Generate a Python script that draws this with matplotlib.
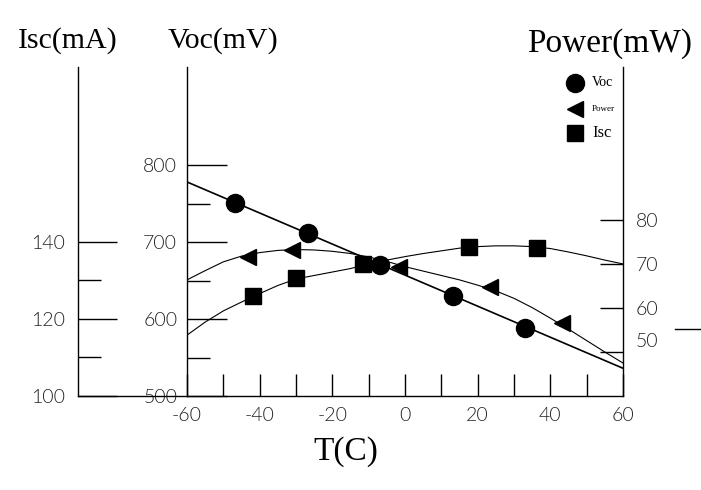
import matplotlib
matplotlib.use("Agg")
import matplotlib.pyplot as plt
from matplotlib.lines import Line2D

# ---------------- data ----------------
# temperature grid on which the fitted curves were read
curve_T = [-60, -55, -50, -45, -40, -35, -30, -25, -20, -15, -10, -5, 0,
           5, 10, 15, 20, 25, 30, 35, 40, 45, 50, 55, 60]
power_curve = [66.4, 68.5, 70.5, 71.8, 72.6, 73.1, 73.3, 73.2, 72.9, 72.4, 71.6, 70.6, 69.4,
               68.4, 67.4, 66.4, 65.2, 63.9, 62.2, 60.1, 57.7, 55.2, 52.6, 50.0, 47.5]
isc_curve = [115.8, 119.2, 122.1, 124.4, 126.6, 128.7, 130.4, 131.3, 132.2, 133.1, 134.3, 135.3, 136.2,
             137.0, 137.7, 138.4, 138.8, 139.0, 139.0, 138.8, 138.3, 137.4, 136.4, 135.3, 134.3]
# Voc fit is a straight line
voc_line_T = [-60, 60]
voc_line_V = [778, 536]

# measured points
voc_T = [-46.9, -26.7, -6.9, 13.2, 33.0]
voc_V = [751, 712, 670, 630, 588]
power_T = [-43.1, -31.1, -1.7, 23.4, 43.2]
power_P = [71.6, 73.2, 69.3, 64.8, 56.7]
isc_T = [-41.8, -30.0, -11.6, 17.6, 36.3]
isc_I = [126.0, 130.6, 134.3, 138.7, 138.4]

# ticks
x_major = [-60, -40, -20, 0, 20, 40, 60]
x_labels = ["-60", "-40", "-20", "0", "20", "40", "60"]
x_minor = [-50, -30, -10, 10, 30, 50]
voc_ticks = [500, 600, 700, 800]
voc_labels = ["500", "600", "700", "800"]
voc_minor = [550, 650, 750]
isc_ticks = [100, 120, 140]
isc_labels = ["100", "120", "140"]
isc_minor = [110, 130]
power_ticks = [50, 60, 70, 80]
power_labels = ["", "60", "70", "80"]

# ---------------- figure ----------------
W, H = 701, 490
fig = plt.figure(figsize=(W / 100, H / 100), dpi=100)
ax = fig.add_axes([187 / W, (H - 396) / H, 436 / W, 329 / H])

serif = ["Liberation Serif", "DejaVu Serif"]
tf = dict(family=["Lato", "DejaVu Sans"], fontweight=300, fontsize=14, color="#222222")
LW = 1.0

# Voc axis (main)
ax.set_xlim(-60, 60)
ax.set_ylim(500, 927.3)
ax.plot(voc_line_T, voc_line_V, color="k", lw=1.2)
ax.plot(voc_T, voc_V, "o", color="k", ms=13, ls="none")
ax.spines[["top", "right"]].set_visible(False)
for s in ["left", "bottom"]:
    ax.spines[s].set_linewidth(LW)
ax.set_yticks(voc_ticks, voc_labels, **tf)
ax.set_yticks(voc_minor, minor=True)
ax.tick_params(axis="y", which="major", direction="in", length=28.8, width=LW, pad=7)
ax.tick_params(axis="y", which="minor", direction="in", length=16.6, width=LW)
ax.set_xticks(x_major, x_labels, **tf)
ax.set_xticks(x_minor, minor=True)
ax.tick_params(axis="x", which="both", direction="in", length=15.8, width=LW, pad=8)
# bottom line continues to the Isc axis
ax.plot([-109 / 436, 0], [0, 0], transform=ax.transAxes, color="k", lw=LW, clip_on=False)

# Power axis (right)
ax_p = ax.twinx()
ax_p.set_ylim(40, 114.8)
ax_p.spines[["top", "left", "bottom"]].set_visible(False)
ax_p.spines["right"].set_linewidth(LW)
ax_p.plot(curve_T, power_curve, color="k", lw=0.8)
ax_p.plot(power_T, power_P, "<", color="k", ms=12, ls="none")
ax_p.set_yticks(power_ticks, power_labels, **tf)
ax_p.tick_params(axis="y", direction="in", length=16.6, width=LW, pad=9)
ax_p.annotate("50", xy=(1, 52.3), xycoords=("axes fraction", "data"),
              xytext=(9, 0), textcoords="offset points", va="center", ha="left", **tf)

# Isc axis (far left)
ax_i = ax.twinx()
ax_i.set_ylim(100, 185.45)
ax_i.yaxis.tick_left()
ax_i.spines["left"].set_position(("axes", -109 / 436))
ax_i.spines["left"].set_visible(True)
ax_i.spines["left"].set_linewidth(LW)
ax_i.spines[["top", "right", "bottom"]].set_visible(False)
ax_i.plot(curve_T, isc_curve, color="k", lw=0.8)
ax_i.plot(isc_T, isc_I, "s", color="k", ms=12, ls="none")
ax_i.set_yticks(isc_ticks, isc_labels, **tf)
ax_i.set_yticks(isc_minor, minor=True)
ax_i.tick_params(axis="y", which="major", direction="in", length=28.1, width=LW, pad=9.4)
ax_i.tick_params(axis="y", which="minor", direction="in", length=16.6, width=LW)

# legend (drawn by hand to match the mixed label sizes)
leg_items = [("o", 13, "Voc", 10, 0.952), ("<", 11, "Power", 6.5, 0.872), ("s", 12, "Isc", 12, 0.800)]
for mk, ms, lab, fs, yy in leg_items:
    ax.plot([0.889], [yy], mk, color="k", ms=ms, transform=ax.transAxes, clip_on=False)
    ax.text(0.929, yy, lab, transform=ax.transAxes, family=serif, fontsize=fs,
            va="center", ha="left")

# titles
fig.text(18 / W, 1 - 48 / H, "Isc(mA)", family=serif, fontsize=21.5, va="baseline", ha="left")
fig.text(168 / W, 1 - 48 / H, "Voc(mV)", family=serif, fontsize=21.5, va="baseline", ha="left")
fig.text(527 / W, 1 - 52 / H, "Power(mW)", family=serif, fontsize=24, va="baseline", ha="left")
fig.text(313 / W, 1 - 460 / H, "T(C)", family=serif, fontsize=24, va="baseline", ha="left")

# stray short stroke at the right edge of the original drawing
fig.add_artist(Line2D([675 / W, 1.0], [1 - 329 / H] * 2, color="k", lw=LW))

fig.savefig("out.png", dpi=100)
